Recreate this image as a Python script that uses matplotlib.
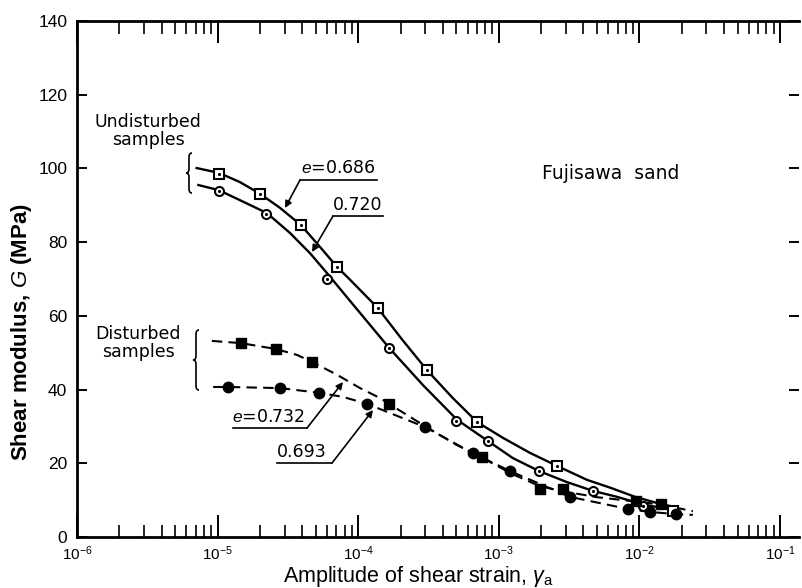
import matplotlib
matplotlib.use("Agg")
import matplotlib.pyplot as plt
from matplotlib.ticker import LogLocator, NullFormatter, MultipleLocator
from matplotlib.path import Path
from matplotlib.patches import PathPatch
from matplotlib.transforms import IdentityTransform

plt.rcParams["font.family"] = ["Liberation Sans", "DejaVu Sans"]
plt.rcParams["mathtext.fontset"] = "custom"
plt.rcParams["mathtext.rm"] = "Liberation Sans"
plt.rcParams["mathtext.it"] = "Liberation Sans:italic"

# --- measured points -------------------------------------------------------
# undisturbed, e = 0.686 (open squares)
strain_686 = [1.02e-5, 2.0e-5, 3.9e-5, 7.1e-5, 1.38e-4, 3.1e-4, 7.0e-4, 2.6e-3, 1.73e-2]
G_686 = [98.6, 93.0, 84.6, 73.2, 62.1, 45.3, 31.2, 19.2, 7.1]

# undisturbed, e = 0.720 (open circles)
strain_720 = [1.02e-5, 2.2e-5, 6.0e-5, 1.66e-4, 5.0e-4, 8.4e-4, 1.93e-3, 4.7e-3, 1.06e-2]
G_720 = [93.9, 87.6, 70.0, 51.3, 31.4, 26.0, 17.9, 12.5, 8.4]

# disturbed, e = 0.732 (filled squares)
strain_732 = [1.47e-5, 2.6e-5, 4.7e-5, 1.66e-4, 7.6e-4, 1.96e-3, 2.86e-3, 9.5e-3, 1.42e-2]
G_732 = [52.6, 51.0, 47.5, 36.1, 21.7, 13.0, 13.0, 9.8, 9.0]

# disturbed, e = 0.693 (filled circles)
strain_693 = [1.19e-5, 2.8e-5, 5.3e-5, 1.16e-4, 3.0e-4, 6.5e-4, 1.2e-3, 3.2e-3, 8.3e-3, 1.19e-2, 1.82e-2]
G_693 = [40.7, 40.4, 39.1, 36.1, 29.8, 22.8, 17.9, 10.9, 7.6, 6.8, 6.2]

# --- hand-drawn trend curves ------------------------------------------------
curve_686_strain = [7.1e-6, 1.02e-5, 1.44e-5, 1.97e-5, 2.78e-5, 3.92e-5, 5.35e-5, 7.06e-5,
                    8.75e-5, 1.38e-4, 2.04e-4, 3.08e-4, 4.68e-4, 7.0e-4, 1.07e-3, 1.67e-3,
                    2.59e-3, 4.24e-3, 6.18e-3, 9.3e-3, 1.4e-2, 1.75e-2]
curve_686_G = [100.1, 98.8, 96.3, 93.3, 89.3, 84.6, 78.7, 73.3,
               69.8, 62.1, 53.7, 45.3, 37.8, 31.2, 26.9, 22.8,
               19.3, 15.5, 13.4, 10.9, 9.0, 8.2]

curve_720_strain = [7.3e-6, 1.02e-5, 1.44e-5, 2.24e-5, 3.27e-5, 4.54e-5, 6.0e-5, 8.3e-5,
                    1.66e-4, 2.89e-4, 5.05e-4, 8.4e-4, 1.26e-3, 1.93e-3, 3.05e-3, 4.68e-3,
                    6.93e-3, 1.06e-2, 1.6e-2]
curve_720_G = [95.5, 94.1, 91.4, 87.9, 82.5, 77.0, 71.6, 65.1,
               51.3, 41.2, 31.8, 26.0, 21.4, 17.9, 14.9, 12.5,
               10.9, 8.8, 7.6]

curve_732_strain = [9.1e-6, 1.47e-5, 2.6e-5, 3.67e-5, 4.7e-5, 7.08e-5, 1.03e-4, 1.43e-4,
                    1.66e-4, 3.16e-4, 5.0e-4, 7.6e-4, 1.26e-3, 1.96e-3, 2.86e-3, 5.0e-3,
                    9.5e-3, 1.42e-2, 2.4e-2]
curve_732_G = [53.2, 52.6, 51.0, 49.4, 47.5, 44.0, 40.4, 37.7,
               36.1, 29.5, 25.0, 21.5, 17.0, 13.8, 12.4, 10.8,
               9.6, 8.8, 7.0]

curve_693_strain = [9.3e-6, 1.19e-5, 2.78e-5, 5.35e-5, 7.8e-5, 1.16e-4, 3.0e-4, 6.5e-4,
                    1.2e-3, 3.2e-3, 8.3e-3, 1.19e-2, 1.82e-2, 2.4e-2]
curve_693_G = [40.7, 40.7, 40.4, 39.1, 38.0, 36.1, 29.8, 22.8,
               17.9, 10.9, 7.6, 6.8, 6.2, 6.0]

W, H = 802, 588
fig = plt.figure(figsize=(W / 100, H / 100), dpi=100)
ax = fig.add_axes([77 / W, 1 - 537 / H, 722 / W, 516 / H])

dash = (0, (5, 3))
ax.plot(curve_686_strain, curve_686_G, color="black", lw=1.7)
ax.plot(curve_720_strain, curve_720_G, color="black", lw=1.7)
ax.plot(curve_732_strain, curve_732_G, color="black", lw=1.5, linestyle=dash)
ax.plot(curve_693_strain, curve_693_G, color="black", lw=1.5, linestyle=dash)

ax.plot(strain_686, G_686, "s", ms=7.5, mfc="white", mec="black", mew=1.5, ls="none")
ax.plot(strain_686, G_686, ".", ms=2.5, color="black", ls="none")
ax.plot(strain_720, G_720, "o", ms=6.5, mfc="white", mec="black", mew=1.5, ls="none")
ax.plot(strain_720, G_720, ".", ms=2.5, color="black", ls="none")
ax.plot(strain_732, G_732, "s", ms=7.5, color="black", ls="none")
ax.plot(strain_693, G_693, "o", ms=7.5, color="black", ls="none")

ax.set_xscale("log")
ax.set_xlim(1e-6, 10 ** -0.865)
ax.set_ylim(0, 140)
ax.yaxis.set_major_locator(MultipleLocator(20))
ax.xaxis.set_major_locator(LogLocator(base=10, numticks=10))
ax.xaxis.set_minor_locator(LogLocator(base=10, subs=range(2, 10), numticks=20))
ax.xaxis.set_minor_formatter(NullFormatter())

ax.tick_params(axis="x", which="major", direction="in", length=16, width=1.4,
               top=True, labelsize=11, pad=5)
ax.tick_params(axis="x", which="minor", direction="in", length=9, width=1.2, top=True)
ax.tick_params(axis="y", which="major", direction="in", length=7, width=1.4,
               right=True, labelsize=12.5, pad=7)
for s in ax.spines.values():
    s.set_linewidth(2)
ax.spines["right"].set_visible(False)

fig.text(22 / W, 1 - 332 / H, "Shear modulus, $\\it{G}$ (MPa)", rotation=90,
         ha="center", va="center", fontsize=16, fontweight="bold")
fig.text(418 / W, 1 - 582 / H, "Amplitude of shear strain, $\\gamma_\\mathrm{a}$",
         ha="center", va="baseline", fontsize=15.5)


def px(x, y):
    # figure pixel (from top-left) -> data coordinates
    return 10 ** (-6 + (x - 77) / 140.6), (537 - y) / 3.686


def brace(x, top, bottom, w=6):
    # left-pointing curly brace, in figure pixels
    y0, y1 = H - top, H - bottom
    ym = (y0 + y1) / 2
    c = w / 2
    verts = [(x + w, y0), (x + c, y0), (x + c, y0 - 4),
             (x + c, ym + 4),
             (x + c, ym), (x, ym), (x, ym),
             (x + c, ym), (x + c, ym - 4), (x + c, ym - 4),
             (x + c, y1 + 4),
             (x + c, y1), (x + w, y1), (x + w, y1)]
    codes = [Path.MOVETO, Path.CURVE3, Path.CURVE3,
             Path.LINETO,
             Path.CURVE3, Path.CURVE3, Path.LINETO,
             Path.CURVE3, Path.CURVE3, Path.LINETO,
             Path.LINETO,
             Path.CURVE3, Path.CURVE3, Path.LINETO]
    fig.add_artist(PathPatch(Path(verts, codes), transform=IdentityTransform(),
                             fill=False, lw=1.2, color="black"))


note_font = ["DejaVu Sans"]

# group labels and braces
fig.text(148 / W, 1 - 131 / H, "Undisturbed\nsamples", ha="center", va="center",
         fontsize=12.5, linespacing=1.0, family=note_font)
fig.text(138 / W, 1 - 343 / H, "Disturbed\nsamples", ha="center", va="center",
         fontsize=12.5, linespacing=1.0, family=note_font)
brace(186, 153, 193)
brace(193, 330, 390)

ax.text(*px(611, 173), "Fujisawa  sand", ha="center", va="center", fontsize=13.5,
        family=note_font)

# void ratio labels: underline + leader with arrow
labels = [
    ("$e$=0.686", (338, 168), (300, 377, 180), (285, 208), "left"),
    ("0.720", (358, 205), (333, 383, 216), (312, 252), "left"),
    ("$e$=0.732", (268, 417), (233, 307, 428), (343, 382), "right"),
    ("0.693", (302, 452), (277, 332, 463), (373, 410), "right"),
]
for txt, (tx, ty), (ux0, ux1, uy), (ax_, ay_), side in labels:
    ax.text(*px(tx, ty), txt, ha="center", va="center", fontsize=12.5, family=note_font)
    x0, y0 = px(ux0, uy)
    x1, y1 = px(ux1, uy)
    ax.plot([x0, x1], [y0, y1], color="black", lw=1.2)
    start = (x0, y0) if side == "left" else (x1, y1)
    ax.annotate("", xy=px(ax_, ay_), xytext=start,
                arrowprops=dict(arrowstyle="-|>", color="black", lw=1.2,
                                mutation_scale=10, shrinkA=0, shrinkB=0))

fig.savefig("out.png", dpi=100)
